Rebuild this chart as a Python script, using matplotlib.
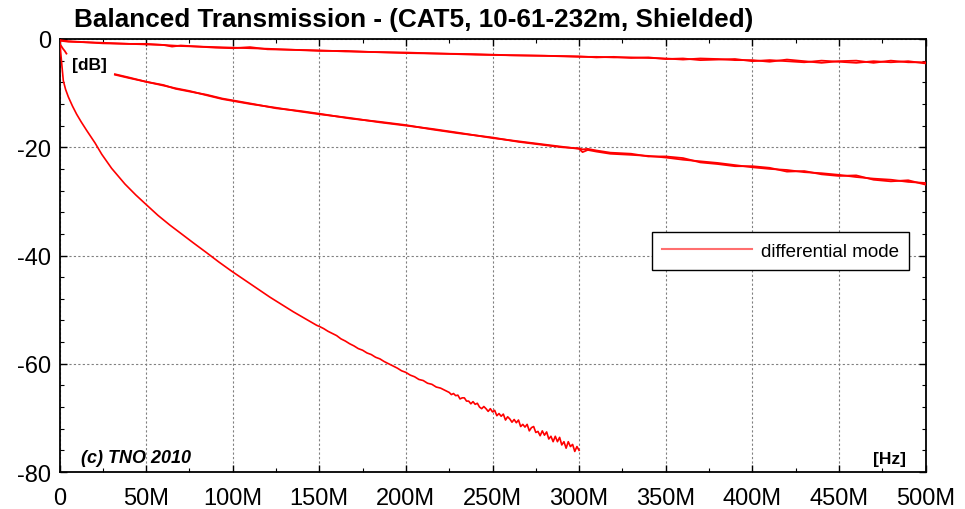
import matplotlib
matplotlib.use("Agg")
import matplotlib.pyplot as plt
from matplotlib.ticker import FixedLocator, FixedFormatter, MultipleLocator
from matplotlib.lines import Line2D

# ---------------- data (frequency in MHz, attenuation in dB) ----------------
# 10 m cable (two traces)
f_10 = [0, 5, 15, 25, 40, 50, 60, 65, 70, 80, 90, 100, 110, 120, 135, 150, 165, 180,
        200, 220, 240, 260, 280, 300, 310, 320, 330, 340, 350, 360, 370, 380, 390,
        400, 410, 420, 430, 440, 450, 460, 470, 480, 490, 500]
a_10 = [-0.2, -0.4, -0.6, -0.7, -0.9, -0.9, -1.1, -1.4, -1.2, -1.4, -1.6, -1.7, -1.5,
        -1.9, -2.0, -2.2, -2.2, -2.4, -2.6, -2.7, -2.8, -3.0, -3.1, -3.3, -3.3, -3.4,
        -3.4, -3.5, -3.6, -3.8, -3.6, -3.7, -3.9, -3.9, -4.2, -3.8, -4.1, -4.4, -4.1,
        -4.0, -4.4, -4.0, -4.3, -4.3]
b_10 = [-0.3, -0.5, -0.6, -0.8, -0.9, -1.0, -1.1, -1.2, -1.3, -1.4, -1.5, -1.6, -1.7,
        -1.8, -2.0, -2.1, -2.3, -2.4, -2.5, -2.7, -2.9, -3.0, -3.1, -3.2, -3.4, -3.3,
        -3.5, -3.4, -3.7, -3.6, -3.9, -3.8, -3.7, -4.1, -3.9, -4.1, -4.3, -4.0, -4.2,
        -4.4, -4.1, -4.3, -4.1, -4.5]

# 61 m cable: short start segment, then two traces from 32 MHz
f_61_start = [0, 1, 2, 3, 4]
v_61_start = [-0.9, -1.3, -1.8, -2.2, -2.7]
f_61 = [32, 40, 50, 60, 67, 75, 85, 94, 110, 125, 139, 150, 168, 185, 200, 215, 230,
        250, 265, 280, 290, 300, 302, 305, 310, 318, 330, 340, 350, 360, 370, 380,
        390, 400, 410, 420, 430, 440, 450, 460, 470, 480, 490, 500]
a_61 = [-6.5, -7.1, -7.9, -8.6, -9.1, -9.6, -10.4, -11.1, -12.0, -12.7, -13.4, -13.9,
        -14.6, -15.4, -16.0, -16.6, -17.3, -18.3, -18.9, -19.5, -19.9, -20.3, -20.9,
        -20.5, -20.8, -21.2, -21.4, -21.6, -21.9, -22.3, -22.6, -22.9, -23.3, -23.7,
        -24.0, -24.2, -24.6, -24.8, -25.1, -25.5, -25.8, -26.0, -26.4, -26.6]
b_61 = [-6.6, -7.2, -7.9, -8.5, -9.2, -9.7, -10.3, -11.0, -11.9, -12.8, -13.3, -13.8,
        -14.7, -15.3, -15.9, -16.7, -17.4, -18.2, -19.0, -19.6, -20.0, -20.2, -20.4,
        -20.3, -20.6, -21.0, -21.2, -21.7, -21.7, -22.0, -22.8, -23.1, -23.5, -23.5,
        -23.8, -24.5, -24.4, -25.0, -25.3, -25.2, -26.0, -26.3, -26.1, -26.9]

# 232 m cable (measured up to 300 MHz)
f_232 = [0, 0.3, 0.7, 1.3, 2.2, 3.5, 5.1, 7.5, 9.9, 12.5, 15.7, 20.5, 24.4, 30.1, 37.8,
         44, 49.4, 56.9, 63.8, 70, 77, 85, 92, 99.4, 110, 121.5, 135, 148.5,
         150, 152.5, 155, 157.5, 160, 162.5, 165, 167.5, 170, 172.5, 175, 177.5, 180,
         182.5, 185, 187.5, 190, 192.5, 195, 197.5, 200, 202.5, 205, 207.5, 210,
         212.5, 215, 217.5, 220, 222.5,
         225, 226.25, 227.5, 228.75, 230, 231.25, 232.5, 233.75, 235, 236.25, 237.5,
         238.75, 240, 241.25, 242.5, 243.75, 245, 246.25, 247.5, 248.75, 250, 251.25,
         252.5, 253.75, 255, 256.25, 257.5, 258.75, 260, 261.25, 262.5, 263.75, 265,
         266.25, 267.5, 268.75, 270, 271.25, 272.5, 273.75, 275, 276.25, 277.5,
         278.75, 280, 281.25, 282.5, 283.75, 285, 286.25, 287.5, 288.75, 290, 291.25,
         292.5, 293.75, 295, 296.25, 297.5, 298.75, 300]
v_232 = [0, -0.6, -2.5, -4.6, -7.7, -9.3, -10.7, -12.4, -13.9, -15.3, -16.9, -19.2,
         -21.3, -23.9, -26.8, -28.8, -30.4, -32.6, -34.4, -35.9, -37.6, -39.5, -41.2,
         -42.9, -45.2, -47.7, -50.4, -52.9,
         -53.1, -53.5, -54.0, -54.4, -54.8, -55.4, -55.8, -56.3, -56.7, -57.2, -57.5,
         -58.0, -58.3, -58.8, -59.1, -59.6, -60.0, -60.4, -60.8, -61.3, -61.6, -62.1,
         -62.4, -62.9, -63.1, -63.6, -63.8, -64.3, -64.5, -64.9,
         -65.3, -65.7, -65.5, -65.9, -65.8, -66.5, -66.3, -66.3, -66.9, -66.9, -67.4,
         -67.0, -67.5, -67.3, -68.0, -68.3, -67.9, -68.3, -68.8, -68.3, -68.9, -68.6,
         -69.6, -69.2, -69.7, -69.3, -70.4, -69.8, -70.2, -70.8, -70.3, -70.9, -70.4,
         -71.6, -71.2, -71.7, -71.2, -72.4, -71.8, -71.6, -72.7, -72.5, -73.3, -72.4,
         -73.2, -72.6, -73.9, -73.4, -74.4, -73.4, -74.4, -73.6, -75.0, -74.4, -75.6,
         -74.4, -75.3, -74.9, -76.2, -75.3, -76.0]

x_ticks = [0, 50, 100, 150, 200, 250, 300, 350, 400, 450, 500]
x_labels = ["0", "50M", "100M", "150M", "200M", "250M", "300M", "350M", "400M",
            "450M", "500M"]
y_ticks = [-80, -60, -40, -20, 0]
y_labels = ["-80", "-60", "-40", "-20", "0"]

title = "Balanced Transmission - (CAT5, 10-61-232m, Shielded)"
legend_label = "differential mode"

# ---------------- plotting ----------------
plt.rcParams['font.family'] = ['Liberation Sans', 'DejaVu Sans']

W, H = 965, 510
fig = plt.figure(figsize=(W / 100, H / 100), dpi=100)
L, R, T, B = 59.5, 925.5, 40, 473
ax = fig.add_axes([L / W, 1 - B / H, (R - L) / W, (B - T) / H])

red = "#ff0000"
lw = 1.3
ax.plot(f_10, b_10, color=red, lw=lw, zorder=3)
ax.plot(f_10, a_10, color=red, lw=lw, zorder=3)
ax.plot(f_61_start, v_61_start, color=red, lw=lw, zorder=3)
ax.plot(f_61, b_61, color=red, lw=lw, zorder=3)
ax.plot(f_61, a_61, color=red, lw=lw, zorder=3)
ax.plot(f_232, v_232, color=red, lw=1.2, zorder=3)

ax.set_xlim(0, 500)
ax.set_ylim(-80, 0)

ax.xaxis.set_major_locator(FixedLocator(x_ticks))
ax.xaxis.set_major_formatter(FixedFormatter(x_labels))
ax.xaxis.set_minor_locator(MultipleLocator(25))
ax.yaxis.set_major_locator(FixedLocator(y_ticks))
ax.yaxis.set_major_formatter(FixedFormatter(y_labels))
ax.yaxis.set_minor_locator(MultipleLocator(4))

ax.tick_params(which='both', direction='in', top=True, right=True, colors='black')
ax.tick_params(which='major', length=5, width=1.0)
ax.tick_params(which='minor', length=3, width=0.8)
ax.tick_params(axis='x', which='major', labelsize=17, pad=11)
ax.tick_params(axis='y', which='major', labelsize=17, pad=6)

ax.grid(True, which='major', color='#808080', linestyle=(0, (2, 2)), linewidth=0.8)
for s in ax.spines.values():
    s.set_linewidth(1.3)
    s.set_color('black')

fig.text(414 / W, 1 - 27.5 / H, title, ha='center', va='baseline',
         fontsize=18.8, fontweight='bold')

ax.annotate("[dB]", xy=(72 / W, 1 - 70 / H), xycoords='figure fraction',
            fontsize=12.5, fontweight='bold', ha='left', va='baseline')
ax.annotate("(c) TNO 2010", xy=(81 / W, 1 - 463.5 / H), xycoords='figure fraction',
            fontsize=13, fontweight='bold', fontstyle='italic', ha='left',
            va='baseline')
ax.annotate("[Hz]", xy=(906 / W, 1 - 464 / H), xycoords='figure fraction',
            fontsize=12.5, fontweight='bold', ha='right', va='baseline')

handle = Line2D([], [], color='#ff6f6f', lw=1.5)
leg = ax.legend([handle], [legend_label], loc='center left',
                bbox_to_anchor=((652 - L) / (R - L), (B - 252) / (B - T)),
                fontsize=13.5, handlelength=4.8, handletextpad=0.45, borderpad=0.55,
                fancybox=False, framealpha=1, edgecolor='black', borderaxespad=0)
leg.get_frame().set_linewidth(1.0)

fig.savefig("out.png", dpi=100)
